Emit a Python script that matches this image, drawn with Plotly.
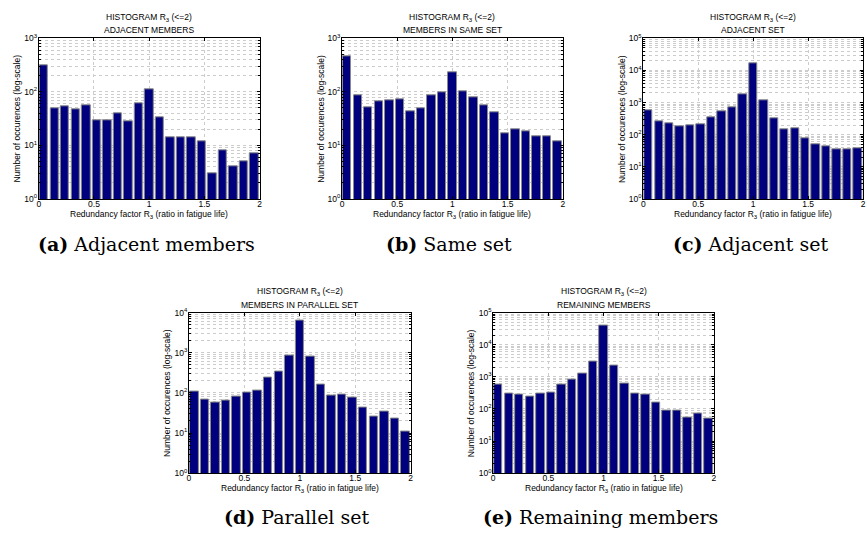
import numpy as np
import plotly.graph_objects as go

W, H = 867, 534

# ---------------- data ----------------
n_bins = 21
x_min, x_max = 0.0, 2.0

counts_a = [315, 50, 54, 47, 56, 30, 30, 39, 28, 62, 111, 33, 14, 14, 14, 12, 3, 8, 4, 5, 7]
counts_b = [461, 87, 51, 67, 71, 73, 43, 50, 85, 96, 228, 103, 80, 55, 42, 17, 20, 18, 15, 15, 12]
counts_c = [556, 262, 233, 184, 202, 207, 347, 518, 719, 1800, 16400, 1180, 331, 146, 153, 75, 49, 44, 34, 36, 39]
counts_d = [106, 69, 59, 64, 83, 100, 112, 237, 338, 845, 6260, 814, 163, 88, 91, 75, 44, 26, 34, 23, 11]
counts_e = [581, 295, 275, 239, 295, 331, 581, 826, 1259, 2990, 39200, 2205, 623, 295, 288, 157, 87, 87, 55, 72, 51]

all_counts = [counts_a, counts_b, counts_c, counts_d, counts_e]
subtitles = ["ADJACENT MEMBERS", "MEMBERS IN SAME SET", "ADJACENT SET",
             "MEMBERS IN PARALLEL SET", "REMAINING MEMBERS"]
letters = ["a", "b", "c", "d", "e"]
captions = ["Adjacent members", "Same set", "Adjacent set", "Parallel set", "Remaining members"]
y_top_decade = [3, 3, 5, 4, 5]
x_tick_vals = [0, 0.5, 1, 1.5, 2]
x_tick_text = ["0", "0.5", "1", "1.5", "2"]
main_title = "HISTOGRAM R<sub>3</sub> (&lt;=2)"
x_label = "Redundancy factor R<sub>3</sub> (ratio in fatigue life)"
y_label = "Number of occurences (log-scale)"

# ---------------- layout (pixel boxes: x0, x1, top, bottom) ----------------
boxes = [(37, 259, 33, 197), (342, 564, 33, 197), (645, 866, 33, 197),
         (188, 411, 313, 477), (494, 716, 313, 477)]
caption_y = [243, 243, 243, 522, 522]

edges = np.linspace(x_min, x_max, n_bins + 1)
centers = (edges[:-1] + edges[1:]) / 2
bw = edges[1] - edges[0]

BAR = "#00007f"
EDGE = "#8a8a8a"
GRID = "#cccccc"
FONT = "Liberation Sans, Arial, sans-serif"
FS = 8.5

fig = go.Figure()
annotations = []
layout_axes = {}

for i, counts in enumerate(all_counts):
    k = i + 1
    xa = "x" if k == 1 else f"x{k}"
    ya = "y" if k == 1 else f"y{k}"
    x0, x1, top, bot = boxes[i]
    fig.add_trace(go.Bar(
        x=centers, y=counts, width=bw * 0.8,
        marker=dict(color=BAR, line=dict(color=EDGE, width=1)),
        xaxis=xa, yaxis=ya, showlegend=False, hoverinfo="x+y",
    ))
    dec = y_top_decade[i]
    major = [10 ** d for d in range(dec + 1)]
    major_text = [f"10<sup>{d}</sup>" for d in range(dec + 1)]
    minor = [m * 10 ** d for d in range(dec) for m in range(2, 10)]
    common = dict(showline=True, linecolor="black", linewidth=1, mirror="allticks",
                  ticks="inside", ticklen=3, tickcolor="black", tickwidth=1,
                  showgrid=True, gridcolor=GRID, griddash="dot", gridwidth=1,
                  zeroline=False, tickfont=dict(family=FONT, size=FS, color="black"))
    layout_axes["xaxis" if k == 1 else f"xaxis{k}"] = dict(
        domain=[x0 / W, x1 / W], anchor=ya, range=[x_min, x_max],
        tickvals=x_tick_vals, ticktext=x_tick_text, ticklabelstandoff=-3, **common)
    layout_axes["yaxis" if k == 1 else f"yaxis{k}"] = dict(
        domain=[1 - bot / H, 1 - top / H], anchor=xa, type="log", range=[0, dec],
        tickvals=major, ticktext=major_text, ticklabelstandoff=-1,
        minor=dict(tickvals=minor, ticks="inside", ticklen=2, tickcolor="black",
                   showgrid=True, gridcolor=GRID, griddash="dot", gridwidth=1),
        **common)
    cx = (x0 + x1) / 2
    annotations += [
        dict(x=cx / W, y=1 - (top - 21) / H, text=main_title),
        dict(x=cx / W, y=1 - (top - 8) / H, text=subtitles[i]),
        dict(x=cx / W, y=1 - (bot + 16) / H, text=x_label),
        dict(x=(x0 - 22) / W, y=1 - (top + bot) / 2 / H, text=y_label, textangle=-90),
    ]
    annotations.append(dict(
        x=(cx - 3) / W, y=1 - caption_y[i] / H,
        text=f"<b>({letters[i]})</b> {captions[i]}",
        font=dict(family="DejaVu Serif, serif", size=19, color="black")))

for a in annotations:
    a.setdefault("font", dict(family=FONT, size=FS, color="black"))
    a.update(xref="paper", yref="paper", showarrow=False,
             xanchor="center", yanchor="middle")

fig.update_layout(
    width=W, height=H, margin=dict(l=0, r=0, t=0, b=0),
    paper_bgcolor="white", plot_bgcolor="white",
    bargap=0, annotations=annotations, showlegend=False,
    **layout_axes,
)

fig.write_html("out.html")
